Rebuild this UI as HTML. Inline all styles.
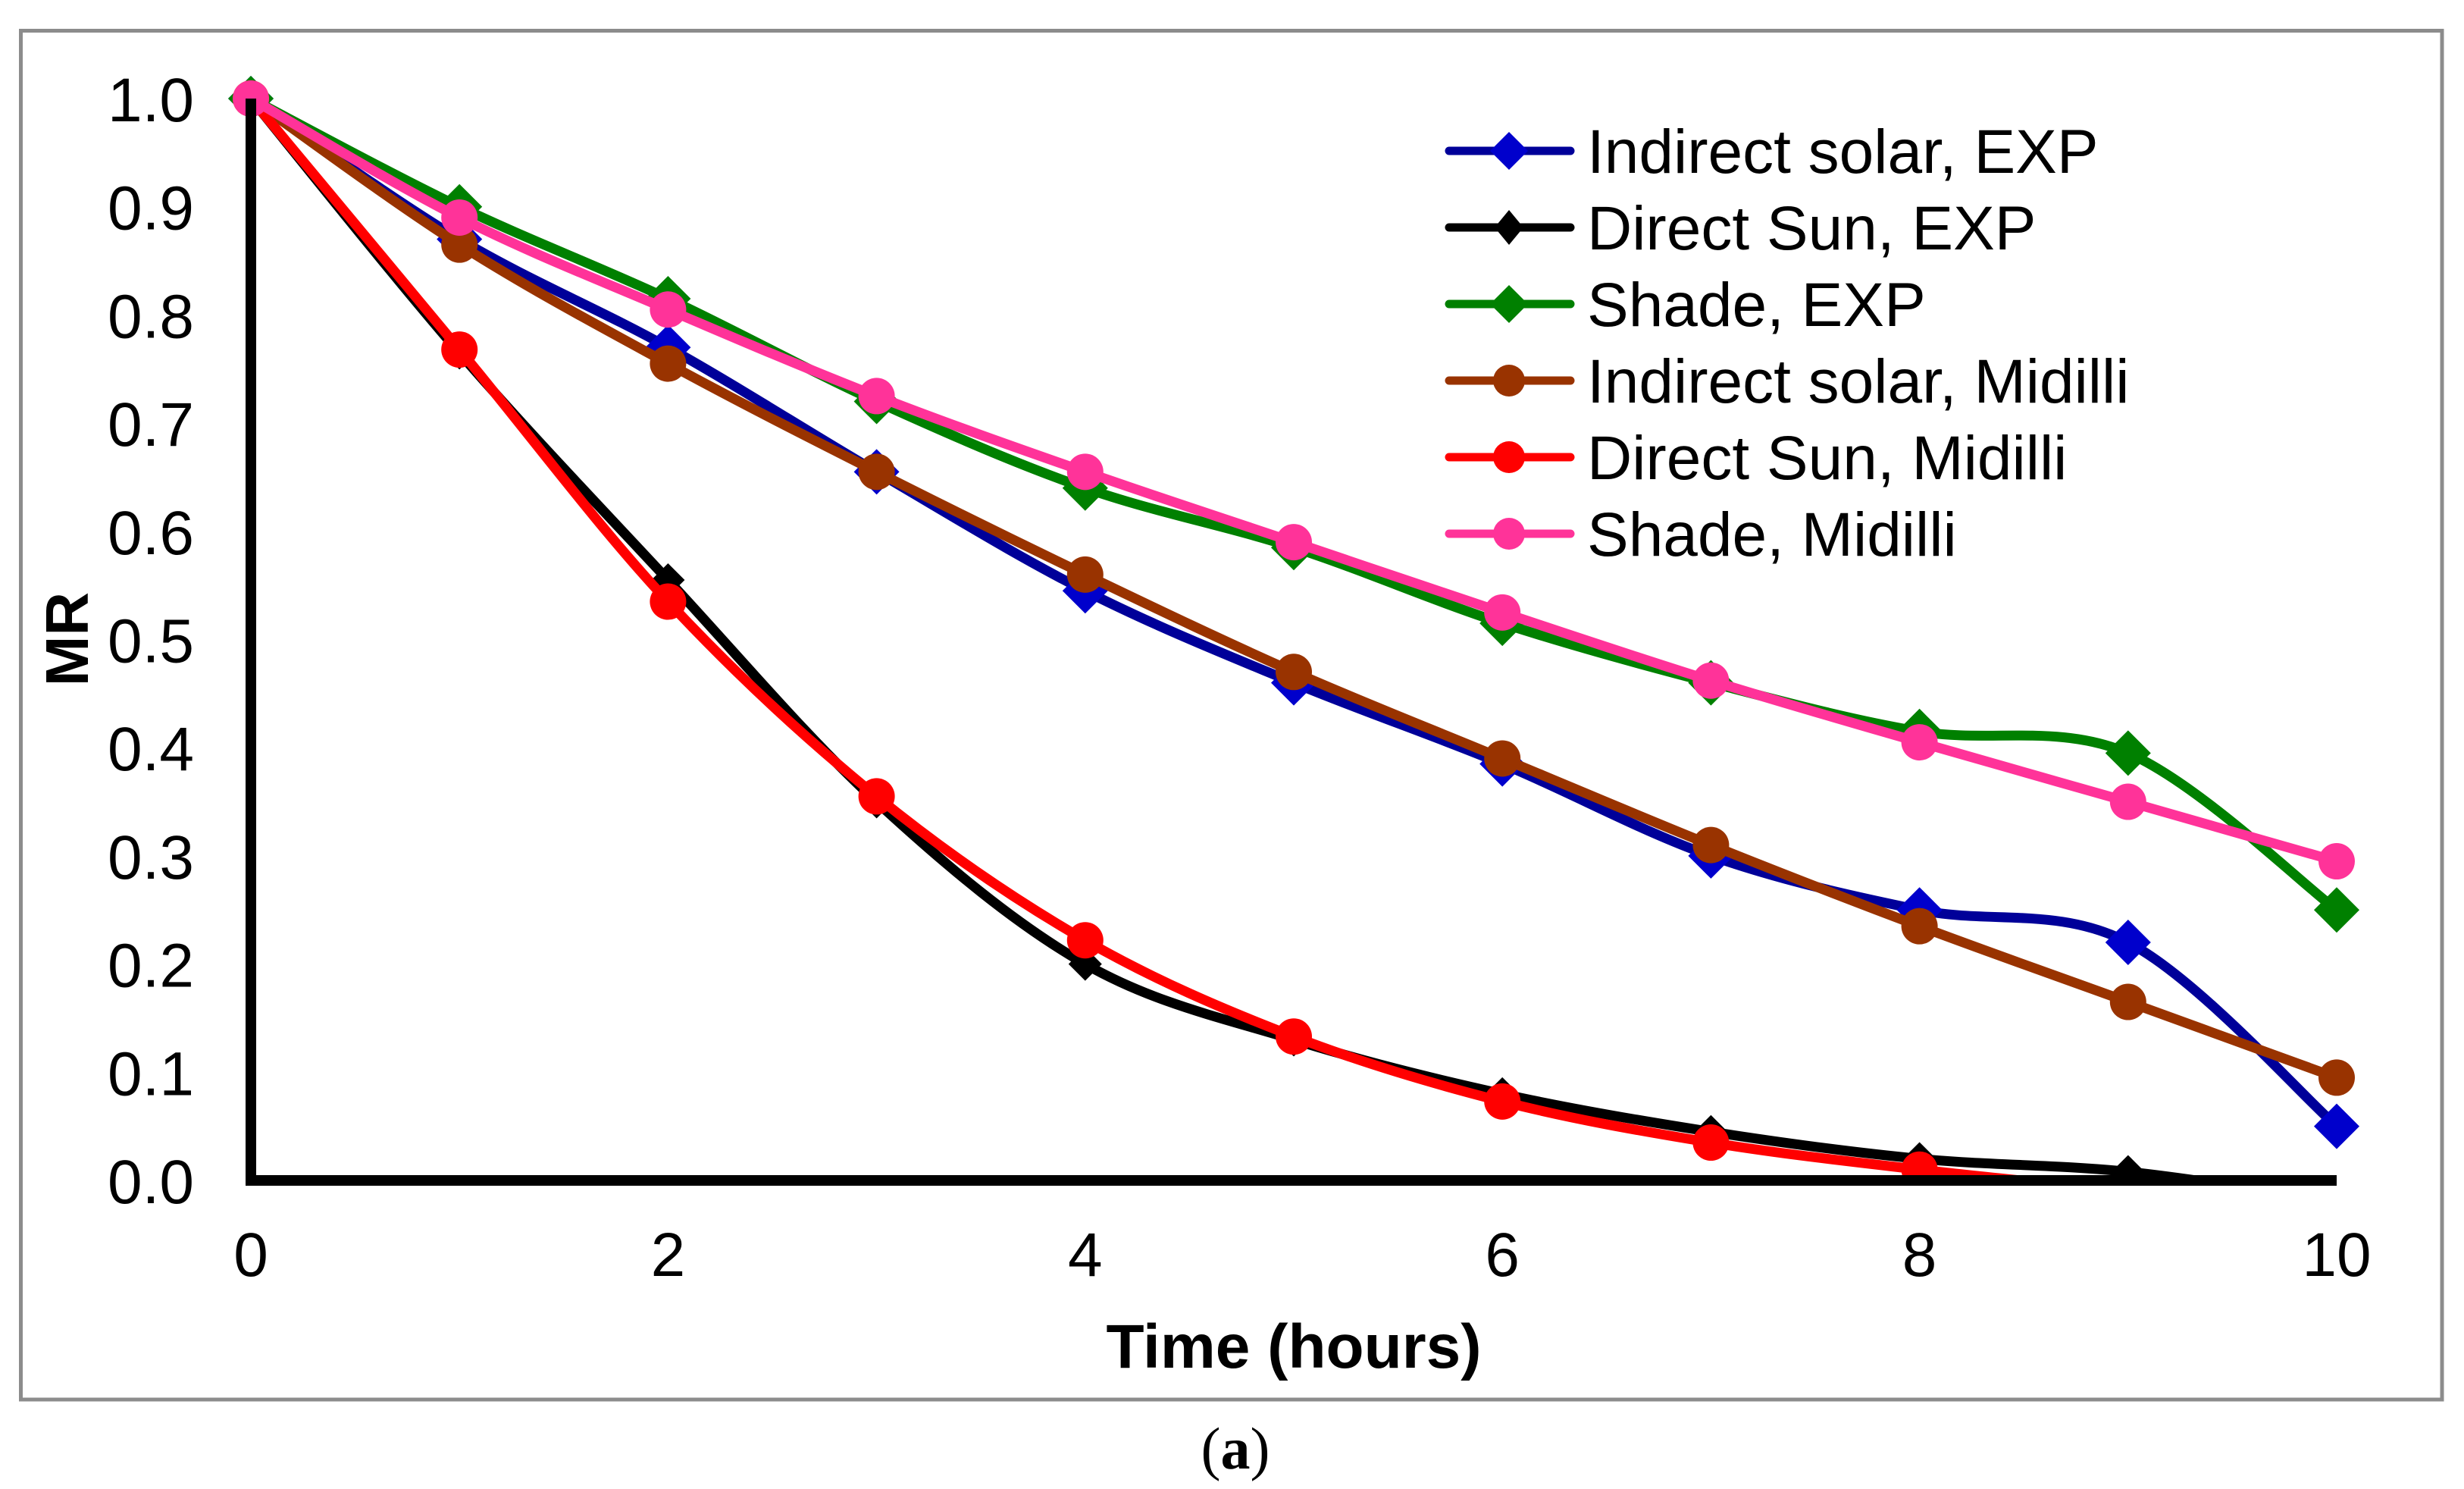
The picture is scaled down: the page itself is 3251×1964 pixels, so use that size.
<!DOCTYPE html>
<html>
<head>
<meta charset="utf-8">
<style>
  html, body { margin: 0; padding: 0; background: #ffffff; }
  svg { display: block; }
  text { font-family: "Liberation Sans", sans-serif; }
</style>
</head>
<body>
<svg id="chart" width="3251" height="1964" viewBox="0 0 3251 1964" xmlns="http://www.w3.org/2000/svg">
  <rect x="0" y="0" width="3251" height="1964" fill="#ffffff"/>
  <rect x="27.5" y="40.5" width="3194.5" height="1805.5" fill="none" stroke="#8c8c8c" stroke-width="5"/>
  <defs>
    <clipPath id="plotClip"><rect x="250" y="60" width="2900" height="1497"/></clipPath>
  </defs>
  <g id="series" clip-path="url(#plotClip)"></g>
  <line x1="331" y1="130" x2="331" y2="1564" stroke="#000" stroke-width="14"/>
  <line x1="324" y1="1557" x2="3083" y2="1557" stroke="#000" stroke-width="14"/>
  <g id="yticks"></g>
  <g id="xticks"></g>
  <text x="0" y="0" font-size="80" font-weight="bold" text-anchor="middle" transform="translate(116,843) rotate(-90)">MR</text>
  <text x="1707" y="1804" font-size="82" font-weight="bold" text-anchor="middle">Time (hours)</text>
  <text x="1630" y="1937" font-size="78" text-anchor="middle" style="font-family:'Liberation Serif',serif">(<tspan font-weight="bold">a</tspan>)</text>
  <g id="legend"></g>
</svg>
<script>
const hours = [0, 1, 2, 3, 4, 5, 6, 7, 8, 9, 10];
const indirectExp = [1.0, 0.87, 0.77, 0.655, 0.545, 0.46, 0.385, 0.30, 0.25, 0.22, 0.05];
const directExp = [1.0, 0.765, 0.555, 0.35, 0.20, 0.13, 0.08, 0.045, 0.02, 0.008, -0.02];
const shadeExp = [1.0, 0.90, 0.815, 0.72, 0.64, 0.585, 0.515, 0.46, 0.415, 0.395, 0.25];
const indirectMidilli = [1.0, 0.865, 0.755, 0.655, 0.56, 0.47, 0.39, 0.31, 0.235, 0.165, 0.095];
const directMidilli = [1.0, 0.768, 0.535, 0.355, 0.222, 0.133, 0.073, 0.035, 0.01, -0.01, -0.03];
const shadeMidilli = [1.0, 0.89, 0.805, 0.725, 0.655, 0.59, 0.525, 0.462, 0.405, 0.35, 0.295];
const seriesNames = ["Indirect solar, EXP", "Direct Sun, EXP", "Shade, EXP", "Indirect solar, Midilli", "Direct Sun, Midilli", "Shade, Midilli"];
const yTickLabels = ["0.0", "0.1", "0.2", "0.3", "0.4", "0.5", "0.6", "0.7", "0.8", "0.9", "1.0"];
const xTickLabels = ["0", "2", "4", "6", "8", "10"];

const NS = "http://www.w3.org/2000/svg";
const X0 = 331, X1 = 3083, Y0 = 1557, Y1 = 130;
function xScale(v) { return X0 + (v - 0) / 10 * (X1 - X0); }
function yScale(v) { return Y0 - (v - 0) / 1.0 * (Y0 - Y1); }

const styles = [
  { data: indirectExp, line: "#000099", fill: "#0000cc", marker: "diamond" },
  { data: directExp, line: "#000000", fill: "#000000", marker: "diamond-small" },
  { data: shadeExp, line: "#008000", fill: "#008000", marker: "diamond" },
  { data: indirectMidilli, line: "#993300", fill: "#993300", marker: "circle" },
  { data: directMidilli, line: "#ff0000", fill: "#ff0000", marker: "circle" },
  { data: shadeMidilli, line: "#ff3399", fill: "#ff3399", marker: "circle" }
];

function smoothPath(pts) {
  let d = "M" + pts[0][0] + "," + pts[0][1];
  for (let i = 0; i < pts.length - 1; i++) {
    const p0 = pts[i - 1] || pts[i], p1 = pts[i], p2 = pts[i + 1], p3 = pts[i + 2] || pts[i + 1];
    const c1x = p1[0] + (p2[0] - p0[0]) / 6, c1y = p1[1] + (p2[1] - p0[1]) / 6;
    const c2x = p2[0] - (p3[0] - p1[0]) / 6, c2y = p2[1] - (p3[1] - p1[1]) / 6;
    d += " C" + c1x + "," + c1y + " " + c2x + "," + c2y + " " + p2[0] + "," + p2[1];
  }
  return d;
}

function makeMarker(kind, cx, cy, fill, scale) {
  let el;
  if (kind === "circle") {
    el = document.createElementNS(NS, "ellipse");
    el.setAttribute("cx", cx); el.setAttribute("cy", cy);
    el.setAttribute("rx", 24 * scale); el.setAttribute("ry", 24 * scale);
  } else {
    const r = (kind === "diamond-small" ? 22 : 30) * scale;
    el = document.createElementNS(NS, "polygon");
    el.setAttribute("points", (cx) + "," + (cy - r) + " " + (cx + r) + "," + cy + " " + cx + "," + (cy + r) + " " + (cx - r) + "," + cy);
  }
  el.setAttribute("fill", fill);
  return el;
}

const seriesG = document.getElementById("series");
styles.forEach((s, si) => {
  const g = document.createElementNS(NS, "g");
  
  
  const pts = hours.map((h, i) => [xScale(h), yScale(s.data[i])]);
  const path = document.createElementNS(NS, "path");
  path.setAttribute("d", smoothPath(pts));
  path.setAttribute("fill", "none");
  path.setAttribute("stroke", s.line);
  path.setAttribute("stroke-width", "13");
  path.setAttribute("stroke-linejoin", "round");
  
  
  g.appendChild(path);
  pts.forEach((p, i) => {
    if (s.data[i] < 0) return;
    const m = makeMarker(s.marker, p[0], p[1], s.fill, 1);
    
    
    g.appendChild(m);
  });
  seriesG.appendChild(g);
});

const yt = document.getElementById("yticks");
yTickLabels.forEach((lab, i) => {
  const t = document.createElementNS(NS, "text");
  t.setAttribute("x", 256);
  t.setAttribute("y", yScale(i * 0.1) + 30);
  t.setAttribute("font-size", "82");
  t.setAttribute("text-anchor", "end");
  t.textContent = lab;
  
  
  yt.appendChild(t);
});

const xt = document.getElementById("xticks");
xTickLabels.forEach((lab) => {
  const t = document.createElementNS(NS, "text");
  t.setAttribute("x", xScale(parseFloat(lab)));
  t.setAttribute("y", 1683);
  t.setAttribute("font-size", "82");
  t.setAttribute("text-anchor", "middle");
  t.textContent = lab;
  
  
  xt.appendChild(t);
});

const lg = document.getElementById("legend");
styles.forEach((s, i) => {
  const cy = 199 + i * 101;
  const g = document.createElementNS(NS, "g");
  
  
  const ln = document.createElementNS(NS, "line");
  ln.setAttribute("x1", 1912); ln.setAttribute("x2", 2072);
  ln.setAttribute("y1", cy); ln.setAttribute("y2", cy);
  ln.setAttribute("stroke", s.line); ln.setAttribute("stroke-width", "11");
  ln.setAttribute("stroke-linecap", "round");
  g.appendChild(ln);
  let m;
  if (s.marker === "circle") {
    m = document.createElementNS(NS, "ellipse");
    m.setAttribute("cx", 1991); m.setAttribute("cy", cy);
    m.setAttribute("rx", 21); m.setAttribute("ry", 21);
    m.setAttribute("fill", s.fill);
  } else {
    const rx = s.marker === "diamond-small" ? 19 : 25, ry = s.marker === "diamond-small" ? 23 : 25;
    m = document.createElementNS(NS, "polygon");
    m.setAttribute("points", "1991," + (cy - ry) + " " + (1991 + rx) + "," + cy + " 1991," + (cy + ry) + " " + (1991 - rx) + "," + cy);
    m.setAttribute("fill", s.fill);
  }
  g.appendChild(m);
  const t = document.createElementNS(NS, "text");
  t.setAttribute("x", 2094);
  t.setAttribute("y", cy + 29);
  t.setAttribute("font-size", "82");
  t.textContent = seriesNames[i];
  g.appendChild(t);
  lg.appendChild(g);
});
</script>
</body>
</html>
